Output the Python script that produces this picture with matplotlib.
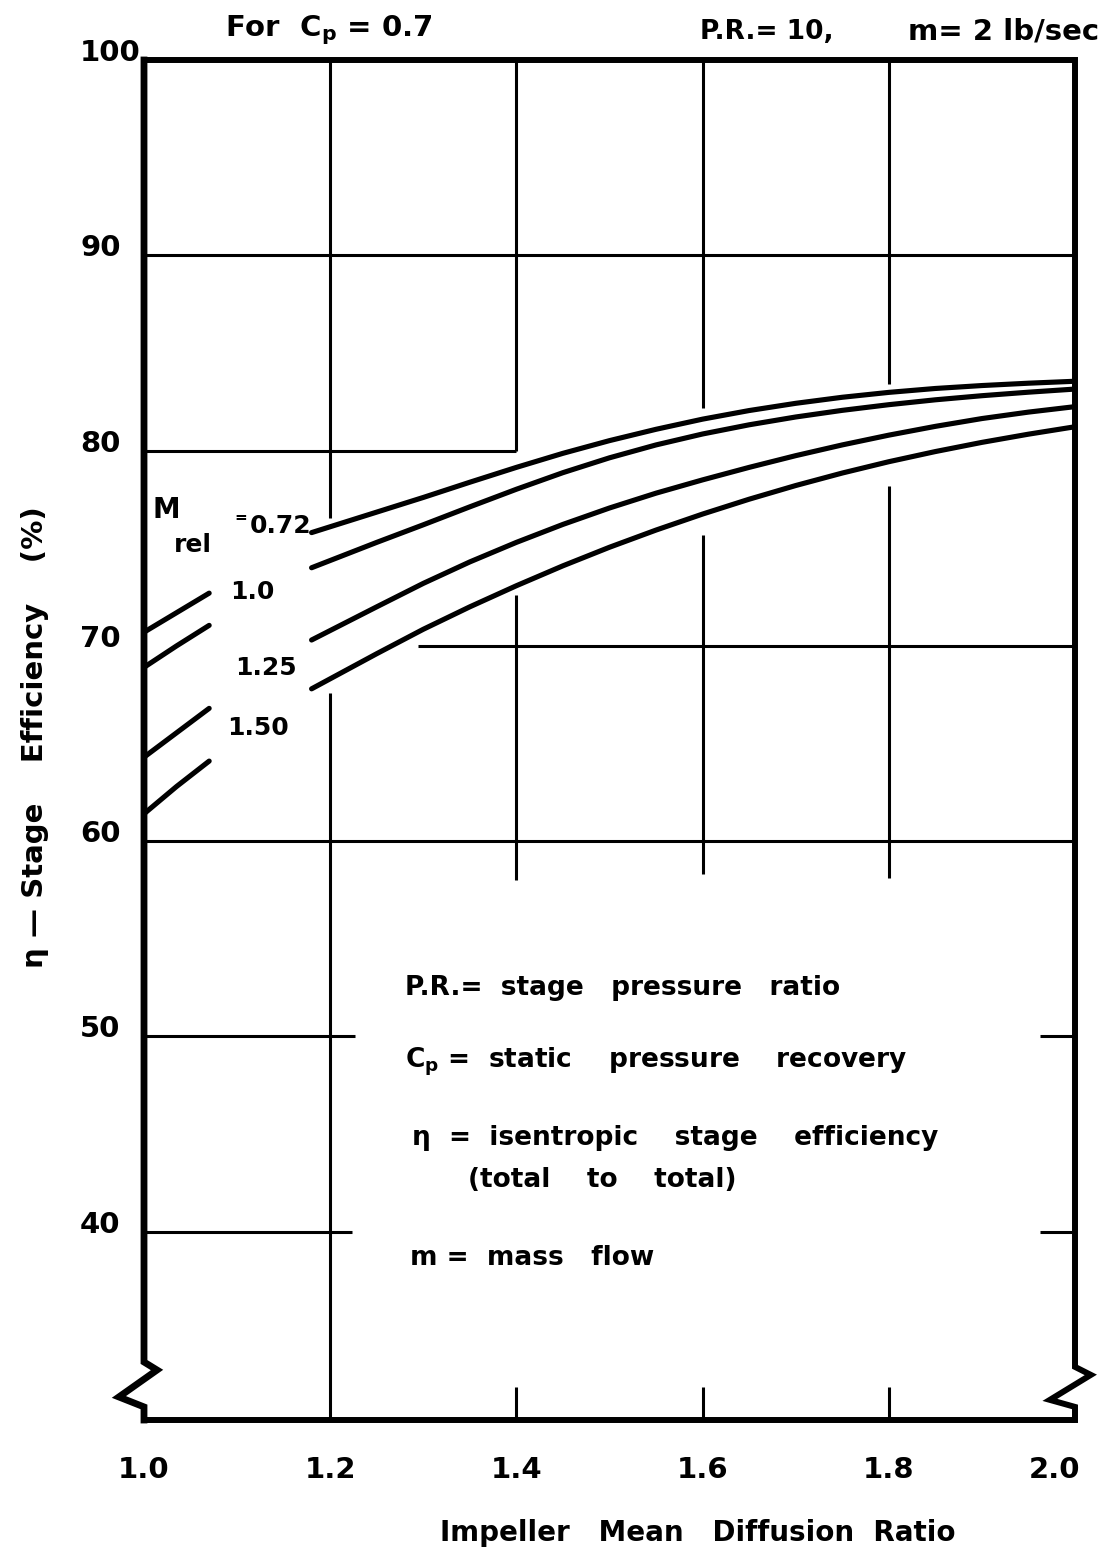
import matplotlib
matplotlib.use("Agg")
import matplotlib.pyplot as plt
import numpy as np
from matplotlib.transforms import ScaledTranslation

plt.rcParams['font.family'] = ['DejaVu Sans']
plt.rcParams['font.weight'] = 'bold'
plt.rcParams['mathtext.default'] = 'bf'

nan = np.nan

# Impeller mean diffusion ratio sample points (the NaN column is the gap left for the curve labels)
diffusion_ratio = [1.00, 1.035, 1.07, 1.125, 1.18, 1.25, 1.30, 1.35, 1.40, 1.45, 1.50,
                   1.55, 1.60, 1.65, 1.70, 1.75, 1.80, 1.85, 1.90, 1.95, 2.00]

# Stage efficiency (%) for each relative Mach number
eff_m072 = [70.7, 71.7, 72.7, nan, 75.8, 76.85, 77.6, 78.38, 79.14, 79.86, 80.51,
            81.09, 81.61, 82.05, 82.42, 82.73, 82.98, 83.18, 83.33, 83.45, 83.55]
eff_m100 = [68.9, 70.0, 71.05, nan, 74.0, 75.3, 76.2, 77.12, 78.02, 78.87, 79.63,
            80.29, 80.85, 81.32, 81.72, 82.06, 82.35, 82.6, 82.81, 82.99, 83.15]
eff_m125 = [64.3, 65.55, 66.8, nan, 70.3, 72.0, 73.2, 74.3, 75.3, 76.22, 77.06,
            77.82, 78.5, 79.14, 79.74, 80.29, 80.79, 81.24, 81.64, 81.97, 82.25]
eff_m150 = [61.4, 62.8, 64.1, nan, 67.8, 69.6, 70.85, 72.0, 73.08, 74.1, 75.05,
            75.93, 76.75, 77.51, 78.21, 78.85, 79.43, 79.95, 80.42, 80.84, 81.22]

mach_labels = ["0.72", "1.0", "1.25", "1.50"]

x_ticks = [1.0, 1.2, 1.4, 1.6, 1.8, 2.0]
x_tick_labels = ["1.0", "1.2", "1.4", "1.6", "1.8", "2.0"]
y_ticks = [40, 50, 60, 70, 80, 90, 100]
y_tick_labels = ["40", "50", "60", "70", "80", "90", "100"]

X_MIN, X_MAX = 1.0, 2.0
Y_MIN, Y_MAX = 30.36, 100.0

W, H = 1114, 1554
fig = plt.figure(figsize=(W / 100, H / 100), dpi=100)
fig.patch.set_facecolor('white')
ax = fig.add_axes([144 / W, 1 - 1420 / H, 931 / W, 1360 / H])
ax.set_xlim(X_MIN, X_MAX)
ax.set_ylim(Y_MIN, Y_MAX)
for s in ax.spines.values():
    s.set_visible(False)

K = 'black'
GRID_LW = 2.2
FRAME_LW = 4.3
CURVE_LW = 3.7


def seg(xs, ys, lw=GRID_LW, clip=True):
    ax.plot(xs, ys, color=K, lw=lw, solid_capstyle='butt', clip_on=clip, zorder=2)


# Horizontal grid segments
seg([1.0, 2.0], [90, 90])
seg([1.0, 1.4], [80, 80])
seg([1.294, 2.0], [70, 70])
seg([1.0, 2.0], [60, 60])
seg([1.0, 1.227], [50, 50])
seg([1.0, 1.223], [40, 40])
seg([1.962, 2.0], [50, 50])
seg([1.962, 2.0], [40, 40])

# Vertical grid segments
seg([1.2, 1.2], [100, 76.55])
seg([1.2, 1.2], [67.6, Y_MIN])
seg([1.4, 1.4], [100, 80])
seg([1.4, 1.4], [72.6, 58.0])
seg([1.6, 1.6], [100, 82.2])
seg([1.6, 1.6], [75.7, 58.3])
seg([1.8, 1.8], [100, 83.4])
seg([1.8, 1.8], [78.2, 58.1])
for xv in (1.4, 1.6, 1.8):
    seg([xv, xv], [32.05, Y_MIN])

# Frame with axis-break zigzags near the bottom of both side spines
seg([1.0, 2.0], [100, 100], lw=FRAME_LW, clip=False)
seg([1.0, 2.0], [Y_MIN, Y_MIN], lw=FRAME_LW, clip=False)
ax.plot([1.0, 1.0, 1.014, 0.973, 1.0, 1.0], [100, 33.33, 32.92, 31.54, 31.03, Y_MIN],
        color=K, lw=FRAME_LW + 0.6, clip_on=False, solid_joinstyle='miter', zorder=3)
ax.plot([2.0, 2.0, 2.017, 1.973, 2.0, 2.0], [100, 33.08, 32.67, 31.39, 31.03, Y_MIN],
        color=K, lw=FRAME_LW, clip_on=False, solid_joinstyle='miter', zorder=3)

# Efficiency curves
for eff in (eff_m072, eff_m100, eff_m125, eff_m150):
    ax.plot(diffusion_ratio, eff, color=K, lw=CURVE_LW, solid_capstyle='round',
            solid_joinstyle='round', zorder=4)

# Curve labels
ax.text(1.0245, 76.95, "M", fontsize=20, ha='center', va='center')
ax.text(1.0526, 75.17, "rel", fontsize=18, ha='center', va='center')
ax.text(1.1035, 76.55, "=", fontsize=11, ha='center', va='center')
ax.text(1.1135, 76.15, mach_labels[0], fontsize=18, ha='left', va='center')
ax.text(1.116, 72.76, mach_labels[1], fontsize=18, ha='center', va='center')
ax.text(1.131, 68.87, mach_labels[2], fontsize=18, ha='center', va='center')
ax.text(1.1225, 65.8, mach_labels[3], fontsize=18, ha='center', va='center')

# Ticks
ax.set_xticks(x_ticks)
ax.set_xticklabels(x_tick_labels, fontsize=21, fontweight='bold')
ax.set_yticks(y_ticks)
ax.set_yticklabels(y_tick_labels, fontsize=21, fontweight='bold')
ax.tick_params(axis='x', length=0, pad=26)
ax.tick_params(axis='y', length=0, pad=46)
for lbl in ax.get_yticklabels():
    lbl.set_horizontalalignment('left')
    lbl.set_transform(lbl.get_transform() + ScaledTranslation(0, 10 / 100, fig.dpi_scale_trans))
last = ax.get_xticklabels()[-1]
last.set_horizontalalignment('right')
last.set_transform(last.get_transform() + ScaledTranslation(5 / 100, 0, fig.dpi_scale_trans))


def ftext(x, y, s, **kw):
    kw.setdefault('fontsize', 20)
    kw.setdefault('ha', 'left')
    kw.setdefault('va', 'center')
    fig.text(x / W, 1 - y / H, s, fontweight='bold', **kw)


# Axis titles
ftext(698, 1533, "Impeller   Mean   Diffusion  Ratio", ha='center', fontsize=20)
ftext(35, 737, "η — Stage    Efficiency    (%)", ha='center', rotation=90, fontsize=21)

# Header
ftext(225, 30, "For  C$_{p}$ = 0.7", fontsize=21)
ftext(700, 32, "P.R.= 10,", fontsize=19)
ftext(908, 32, "m= 2 lb/sec", fontsize=21)

# Nomenclature
ftext(405, 988, "P.R.=  stage   pressure   ratio", fontsize=19)
ftext(405, 1062, "C$_{p}$ =  static    pressure    recovery", fontsize=19)
ftext(412, 1138, "η  =  isentropic    stage    efficiency", fontsize=19)
ftext(468, 1180, "(total    to    total)", fontsize=19)
ftext(410, 1258, "m =  mass   flow", fontsize=19)

fig.savefig("out.png", dpi=100, facecolor='white')
